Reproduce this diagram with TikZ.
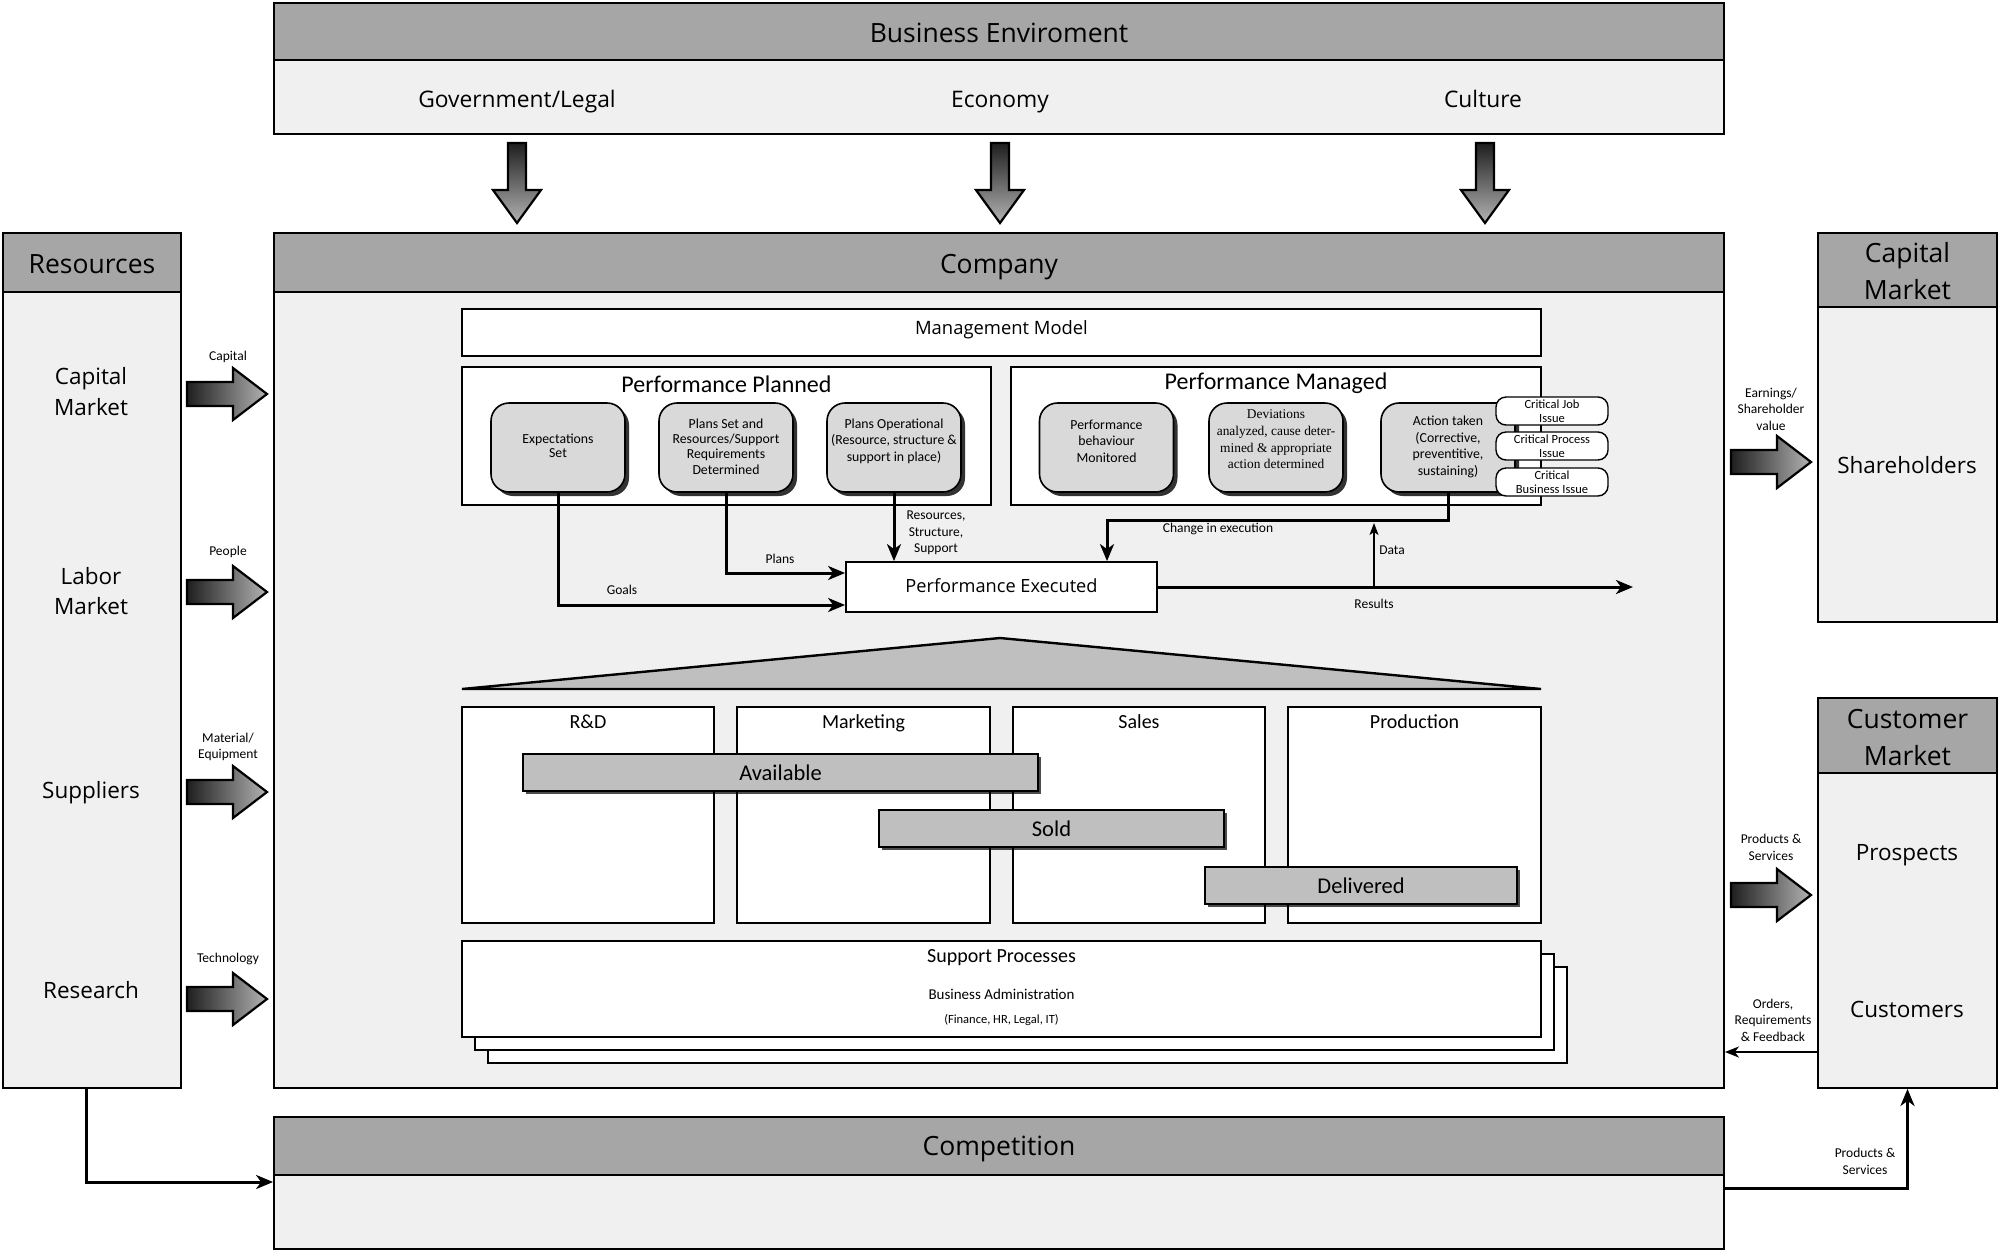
\documentclass[tikz,border=0pt]{standalone}
\usepackage{fontspec}
\setmainfont{Carlito}
\newfontfamily\osans{Open Sans}
\newfontfamily\tserif{Liberation Serif}
\usetikzlibrary{arrows.meta,shadows,calc}
\definecolor{hdr}{HTML}{A6A6A6}
\definecolor{panel}{HTML}{F0F0F0}
\definecolor{rfill}{HTML}{D9D9D9}
\definecolor{barfill}{HTML}{BFBFBF}
\newcommand{\fs}[2]{\fontsize{#1}{#2}\selectfont}
\newcommand{\rblk}[2]{\draw[blk, left color=black!88, right color=black!30] (#1,#2-12) -- (#1+46,#2-12) -- (#1+46,#2-26) -- (#1+80,#2) -- (#1+46,#2+26) -- (#1+46,#2+12) -- (#1,#2+12) -- cycle;}
\newcommand{\dblk}[2]{\draw[blk, top color=black!88, bottom color=black!30] (#1-9,#2) -- (#1+9,#2) -- (#1+9,#2+47) -- (#1+24,#2+47) -- (#1,#2+80) -- (#1-24,#2+47) -- (#1-9,#2+47) -- cycle;}
\begin{document}
\begin{tikzpicture}[x=1pt,y=-1pt,
  box/.style={draw=black, line width=1.8pt, inner sep=0pt, align=center},
  hdrbox/.style={box, fill=hdr},
  hdrtxt/.style={font=\osans\fs{26.5}{37}, inner sep=0pt, anchor=base},
  bodybox/.style={box, fill=panel},
  wbox/.style={box, fill=white},
  bigtxt/.style={font=\osans\fs{22.8}{25}, inner sep=0pt, anchor=base},
  sidetxt/.style={font=\osans\fs{22.5}{30.6}, align=center, inner sep=0pt},
  lbl/.style={font=\fs{13.5}{16.5}, align=center, inner sep=0pt},
  rbx/.style={draw, line width=1.6pt, fill=rfill, rounded corners=18pt, minimum width=134pt, minimum height=89pt, inner sep=0pt, drop shadow={shadow xshift=4pt, shadow yshift=-4pt, fill=black, opacity=0.8}},
  rtxt/.style={align=center, font=\fs{13.8}{16.6}, inner sep=0pt},
  pill/.style={draw, line width=1.4pt, fill=white, rounded corners=10pt, minimum width=112pt, minimum height=28pt, inner sep=0pt, align=center, font=\fs{12.5}{14.5}},
  barbox/.style={draw, line width=1.8pt, fill=barfill, minimum height=37pt, inner sep=0pt, font=\fs{22.5}{24}, drop shadow={shadow xshift=3pt, shadow yshift=-3pt, fill=black, opacity=0.7}},
  dept/.style={draw, line width=1.5pt, fill=white, minimum height=216pt, inner sep=0pt},
  depttitle/.style={font=\fs{20}{22}, inner sep=0pt},
  sback/.style={draw, line width=1.5pt, fill=white},
  blk/.style={draw=black, line width=2.2pt, line join=miter},
  arr/.style={line width=3pt, -{Stealth[length=17pt,width=14pt,inset=5pt]}},
  arrm/.style={line width=2.2pt, -{Stealth[length=14pt,width=11pt,inset=4pt]}},
  arrthin/.style={line width=1.4pt, -{Stealth[length=12pt,width=9pt,inset=3pt]}}
]
\useasboundingbox (0,0) rectangle (2000,1251);

% ---------- Business environment
\node[bodybox, minimum width=1450pt, minimum height=74pt] (benvb) at (999,97) {};
\node[hdrbox, minimum width=1450pt, minimum height=57pt] (benvh) at (999,31.5) {};
\node[hdrtxt] (benvt) at (999,42) {Business Enviroment};
\node[bigtxt] (gov) at (517,107) {Government/Legal};
\node[bigtxt] (eco) at (1000,107) {Economy};
\node[bigtxt] (cul) at (1483,107) {Culture};
\dblk{517}{143}
\dblk{1000}{143}
\dblk{1485}{143}

% ---------- Resources
\node[bodybox, minimum width=178pt, minimum height=796pt] (resb) at (92,690) {};
\node[hdrbox, minimum width=178pt, minimum height=59pt] (resh) at (92,262.5) {};
\node[hdrtxt] (rest) at (92,273) {Resources};
\node[sidetxt] (capm) at (91,391.5) {Capital\\Market};
\node[sidetxt] (labm) at (91,591) {Labor\\Market};
\node[sidetxt, anchor=base] (supl) at (91,798.7) {Suppliers};
\node[sidetxt, anchor=base] (rsch) at (91,998) {Research};

% ---------- Company
\node[bodybox, minimum width=1450pt, minimum height=796pt] (compb) at (999,690) {};
\node[hdrbox, minimum width=1450pt, minimum height=59pt] (comph) at (999,262.5) {};
\node[hdrtxt] (compt) at (999,273) {Company};

% ---------- Capital market
\node[bodybox, minimum width=179pt, minimum height=315pt] (capb) at (1907.5,464.5) {};
\node[hdrbox, minimum width=179pt, minimum height=74pt] (caph) at (1907.5,270) {};
\node[hdrtxt] (capt1) at (1907.5,262.7) {Capital};
\node[hdrtxt] (capt2) at (1907.5,299.7) {Market};
\node[sidetxt, anchor=base] (shh) at (1907,473.4) {Shareholders};

% ---------- Customer market
\node[bodybox, minimum width=179pt, minimum height=315pt] (custb) at (1907.5,930.5) {};
\node[hdrbox, minimum width=179pt, minimum height=75pt] (custh) at (1907.5,735.5) {};
\node[hdrtxt] (custt1) at (1907.5,728.3) {Customer};
\node[hdrtxt] (custt2) at (1907.5,765.3) {Market};
\node[sidetxt, anchor=base] (prosp) at (1907,860) {Prospects};
\node[sidetxt, anchor=base] (custs) at (1907,1017) {Customers};

% ---------- Competition
\node[bodybox, minimum width=1450pt, minimum height=74pt] (compeb) at (999,1212) {};
\node[hdrbox, minimum width=1450pt, minimum height=58pt] (compeh) at (999,1146) {};
\node[hdrtxt] (compet) at (999,1155.6) {Competition};

% ---------- Block arrows and their labels
\rblk{187}{394}
\rblk{187}{592}
\rblk{187}{792}
\rblk{187}{999}
\rblk{1731}{462}
\rblk{1731}{895}
\node[lbl] (lcap) at (228,357) {Capital};
\node[lbl] (lpeo) at (228,552) {People};
\node[lbl] (lmat) at (228,747) {Material/\\Equipment};
\node[lbl] (ltec) at (228,959) {Technology};
\node[lbl] (learn) at (1771,409) {Earnings/\\Shareholder\\value};
\node[lbl] (lprod) at (1771,847.5) {Products \&\\Services};
\node[lbl] (lord) at (1773,1020) {Orders,\\Requirements\\\& Feedback};
\node[lbl] (lprod2) at (1865,1161.5) {Products \&\\Services};

% ---------- Management model
\node[wbox, minimum width=1079pt, minimum height=47pt] (mm) at (1001.5,332.5) {};
\node[font=\osans\fs{18.4}{20}, inner sep=0pt, anchor=base] (mmt) at (1001.5,334.2) {Management Model};
\node[wbox, minimum width=529pt, minimum height=138pt] (pp) at (726.5,436) {};
\node[font=\fs{24}{26}, inner sep=0pt] (ppt) at (726.5,384) {Performance Planned};
\node[wbox, minimum width=530pt, minimum height=138pt] (pm) at (1276,436) {};
\node[font=\fs{24}{26}, inner sep=0pt] (pmt) at (1276,383) {Performance Managed};

\node[rbx] (exp) at (558,447.5) {};
\node[rbx] (pset) at (726,447.5) {};
\node[rbx] (pop) at (894,447.5) {};
\node[rbx] (mon) at (1106.5,447.5) {};
\node[rbx] (dev) at (1276,447.5) {};
\node[rbx] (act) at (1448,447.5) {};
\node[rtxt, font=\fs{13.8}{14.5}] (expt) at (558,446) {Expectations\\Set};
\node[rtxt, font=\fs{13.8}{15.3}] (psett) at (726,446.5) {Plans Set and\\Resources/Support\\Requirements\\Determined};
\node[rtxt] (popt) at (894,441.3) {Plans Operational\\(Resource, structure \&\\support in place)};
\node[rtxt] (mont) at (1106.5,441.3) {Performance\\behaviour\\Monitored};
\node[rtxt, font=\tserif\fs{13.4}{16.6}] (devt) at (1276,439.4) {Deviations\\analyzed, cause deter-\\mined \& appropriate\\action determined};
\node[rtxt] (actt) at (1448,447) {Action taken\\(Corrective,\\preventitive,\\sustaining)};
\node[pill] (cj) at (1552,411) {Critical Job\\Issue};
\node[pill] (cp) at (1552,446) {Critical Process\\Issue};
\node[pill] (cb) at (1552,482) {Critical\\Business Issue};

\node[wbox, minimum width=311pt, minimum height=50pt] (pe) at (1001.5,587) {};
\node[font=\osans\fs{18.2}{20}, inner sep=0pt, anchor=base] (pet) at (1001.5,592) {Performance Executed};

\draw[arr] (exp.south) |- ([yshift=-18pt]pe.west);
\draw[arr] (pset.south) |- ([yshift=14pt]pe.west);
\draw[arr] (pop.south) -- (pop.south |- pe.north);
\coordinate (chg) at (1107,520);
\draw[arr] (act.south) |- (chg) -- (chg |- pe.north);
\coordinate (resend) at (1633,587);
\draw[arr] (pe.east) -- (resend);
\coordinate (datab) at (1374,587);
\coordinate (datat) at (1374,523);
\draw[arrthin] (datab) -- (datat);

\node[lbl] (lgoal) at (622,589.5) {Goals};
\node[lbl] (lplans) at (780,559) {Plans};
\node[lbl] (lres) at (936,533) {Resources,\\Structure,\\Support};
\node[lbl] (lchg) at (1218,529) {Change in execution};
\node[lbl] (lresults) at (1374,604) {Results};
\node[lbl] (ldata) at (1392,550) {Data};

% ---------- Roof
\coordinate (rl) at (462,689);
\coordinate (rt) at (1000,638);
\coordinate (rr) at (1541,689);
\filldraw[fill=barfill, line width=2.4pt, line join=miter] (rl) -- (rt) -- (rr) -- cycle;

% ---------- Departments
\node[dept, minimum width=252pt] (rd) at (588,815) {};
\node[dept, minimum width=253pt] (mk) at (863.5,815) {};
\node[dept, minimum width=252pt] (sa) at (1139,815) {};
\node[dept, minimum width=253pt] (pr) at (1414.5,815) {};
\node[depttitle] (rdt) at (588,722) {R\&D};
\node[depttitle] (mkt) at (863.5,723) {Marketing};
\node[depttitle] (sat) at (1139,722) {Sales};
\node[depttitle] (prt) at (1414.5,722) {Production};

\node[barbox, minimum width=515pt] (avail) at (780.5,772.5) {Available};
\node[barbox, minimum width=345pt] (sold) at (1051.5,828.5) {Sold};
\node[barbox, minimum width=312pt] (deliv) at (1361,885.5) {Delivered};

% ---------- Support processes
\draw[sback] (488,967) rectangle (1567,1063);
\draw[sback] (475,954) rectangle (1554,1050);
\node[wbox, line width=1.5pt, minimum width=1079pt, minimum height=96pt] (spp) at (1001.5,989) {};
\node[font=\fs{20}{22}, inner sep=0pt] (spt) at (1001.5,958) {Support Processes};
\node[font=\fs{15}{17}, inner sep=0pt] (bat) at (1001.5,994) {Business Administration};
\node[font=\fs{12.5}{14}, inner sep=0pt] (fht) at (1001.5,1020) {(Finance, HR, Legal, IT)};

% ---------- Outer connectors
\coordinate (ordS) at ([yshift=-121.5pt]custb.west);
\draw[arrm] (ordS) -- (ordS -| compb.east);
\coordinate (rsS) at ([xshift=-6pt]resb.south);
\coordinate (cmpW) at ([yshift=30pt]compeb.west);
\draw[arr] (rsS) |- (cmpW);
\coordinate (cmpE) at ([yshift=24pt]compeb.east);
\draw[arr] (cmpE) -| (custb.south);
\end{tikzpicture}
\end{document}
